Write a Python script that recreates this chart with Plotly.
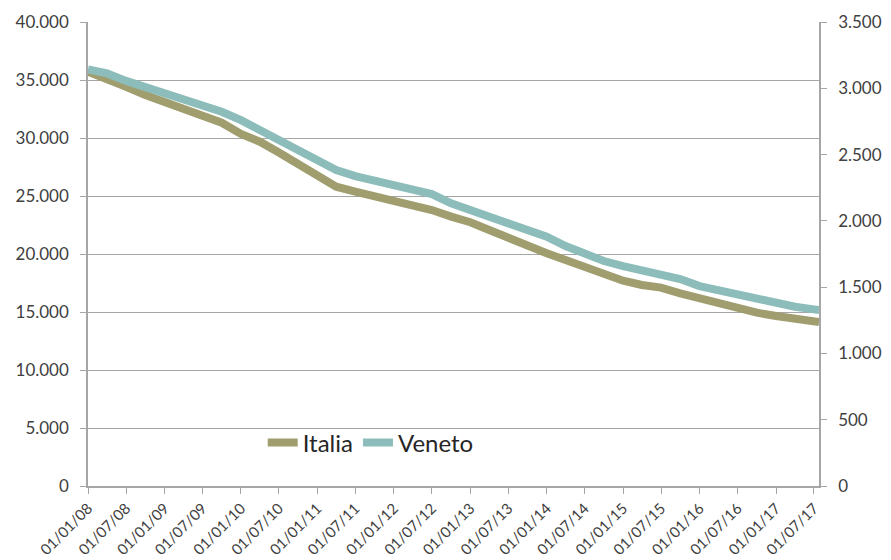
import plotly.graph_objects as go

# Quarterly observation dates (first of month), plus the last reading
dates = [
    "2008-01-01", "2008-04-01", "2008-07-01", "2008-10-01",
    "2009-01-01", "2009-04-01", "2009-07-01", "2009-10-01",
    "2010-01-01", "2010-04-01", "2010-07-01", "2010-10-01",
    "2011-01-01", "2011-04-01", "2011-07-01", "2011-10-01",
    "2012-01-01", "2012-04-01", "2012-07-01", "2012-10-01",
    "2013-01-01", "2013-04-01", "2013-07-01", "2013-10-01",
    "2014-01-01", "2014-04-01", "2014-07-01", "2014-10-01",
    "2015-01-01", "2015-04-01", "2015-07-01", "2015-10-01",
    "2016-01-01", "2016-04-01", "2016-07-01", "2016-10-01",
    "2017-01-01", "2017-04-01", "2017-07-01", "2017-07-25",
]

# Italia (left axis)
italia = [
    35720, 35150, 34420, 33710,
    33130, 32650, 32070, 31320,
    30350, 29680, 28750, 27820,
    26810, 25800, 25370, 25000,
    24650, 24310, 23790, 23220,
    22740, 22070, 21350, 20690,
    20060, 19480, 18850, 18190,
    17700, 17330, 17100, 16610,
    16180, 15750, 15370, 14940,
    14650, 14420, 14220, 14140,
]

# Veneto (right axis)
veneto = [
    3142, 3112, 3056, 3011,
    2961, 2911, 2866, 2823,
    2760, 2685, 2609, 2547,
    2471, 2383, 2338, 2302,
    2270, 2245, 2202, 2132,
    2081, 2031, 1993, 1930,
    1880, 1810, 1755, 1697,
    1659, 1629, 1595, 1561,
    1508, 1478, 1440, 1403,
    1372, 1352, 1332, 1327,
]

left_ticks = [0, 5000, 10000, 15000, 20000, 25000, 30000, 35000, 40000]
right_ticks = [0, 500, 1000, 1500, 2000, 2500, 3000, 3500]

OLIVE = "#A09D6F"
TEAL = "#8DBDBA"
AXIS = "#A6A6A6"
TEXT = "#404040"
FONT = "Lato"

fig = go.Figure()
fig.add_trace(go.Scatter(
    x=dates, y=italia, name="Italia", mode="lines",
    line=dict(color=OLIVE, width=8), yaxis="y",
))
fig.add_trace(go.Scatter(
    x=dates, y=veneto, name="Veneto", mode="lines",
    line=dict(color=TEAL, width=8), yaxis="y2",
))

fig.update_layout(
    width=891, height=560,
    margin=dict(l=88, r=72, t=22, b=74),
    paper_bgcolor="white", plot_bgcolor="white",
    separators=",.",
    font=dict(family=FONT, color=TEXT, size=17),
    showlegend=True,
    legend=dict(
        orientation="h", x=0.239, y=0.093, xanchor="left", yanchor="middle",
        bgcolor="rgba(0,0,0,0)", font=dict(size=24, color="#262626"),
        itemwidth=30, traceorder="normal",
    ),
    xaxis=dict(
        type="date", automargin=False,
        range=["2008-01-01", "2017-07-25"],
        tick0="2008-01-01", dtick="M6", tickformat="%d/%m/%y",
        tickangle=-45, tickfont=dict(size=15),
        ticks="outside", ticklen=6, tickcolor=AXIS,
        showline=True, linecolor=AXIS, linewidth=1.5,
        showgrid=False, zeroline=False,
    ),
    yaxis=dict(
        automargin=False,
        range=[0, 40000], tickvals=left_ticks, tickformat=",d",
        ticks="outside", ticklen=6, tickcolor=AXIS,
        ticklabelstandoff=8,
        showline=True, linecolor=AXIS, linewidth=1.5,
        showgrid=True, gridcolor=AXIS, gridwidth=1.2,
        zeroline=False,
    ),
    yaxis2=dict(
        automargin=False,
        range=[0, 3500], tickvals=right_ticks, tickformat=",d",
        overlaying="y", side="right", anchor="x",
        ticks="outside", ticklen=6, tickcolor=AXIS,
        ticklabelstandoff=8,
        showline=True, linecolor=AXIS, linewidth=1.5,
        showgrid=False, zeroline=False,
    ),
)

fig.write_html("out.html")
